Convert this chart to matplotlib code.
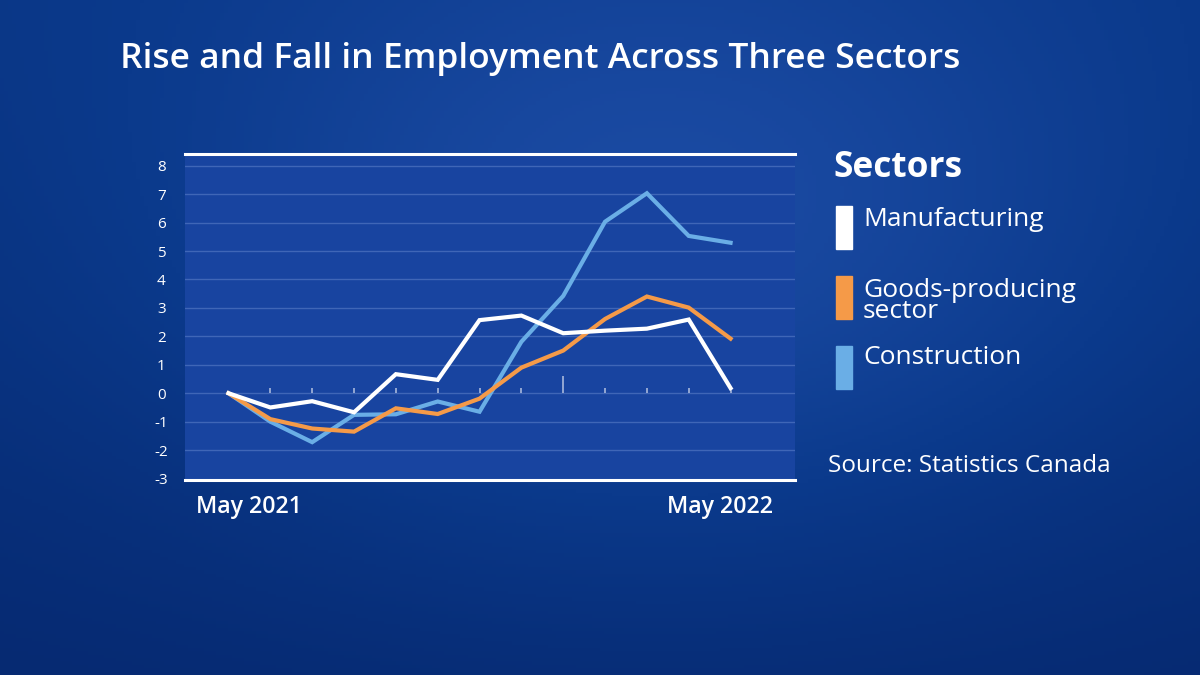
import numpy as np
import matplotlib.pyplot as plt
from matplotlib.patches import Rectangle
from matplotlib.colors import LinearSegmentedColormap

# -- data (percent change since May 2021)
months = ['May 2021', 'Jun', 'Jul', 'Aug', 'Sep', 'Oct', 'Nov', 'Dec',
          'Jan 2022', 'Feb', 'Mar', 'Apr', 'May 2022']
manufacturing = [0.0, -0.5, -0.28, -0.67, 0.67, 0.47, 2.57, 2.73, 2.11, 2.2, 2.27, 2.59, 0.18]
goods_producing = [0.0, -0.91, -1.24, -1.35, -0.53, -0.73, -0.19, 0.9, 1.5, 2.61, 3.4, 3.01, 1.92]
construction = [0.0, -1.0, -1.72, -0.76, -0.74, -0.29, -0.65, 1.81, 3.42, 6.03, 7.03, 5.53, 5.29]
yticks = [-3, -2, -1, 0, 1, 2, 3, 4, 5, 6, 7, 8]

series_names = ['Manufacturing', 'Goods-producing\nsector', 'Construction']
series_colors = ['#ffffff', '#f59a48', '#6aaee6']

plt.rcParams['font.family'] = ['Open Sans', 'DejaVu Sans']

fig = plt.figure(figsize=(12, 6.75), dpi=100)

# background gradient
bg = fig.add_axes([0, 0, 1, 1])
bg.set_axis_off()
yy, xx = np.mgrid[0:1:200j, 0:1:300j]
shade = 0.55 * np.exp(-((xx - 0.55) ** 2 / 0.18 + (yy - 0.35) ** 2 / 0.25)) + 0.25 * (1 - yy)
cmap = LinearSegmentedColormap.from_list('bg', ['#062a72', '#0b3a8c', '#1a4aa2'])
bg.imshow(shade, cmap=cmap, aspect='auto', extent=[0, 1, 0, 1], origin='upper')
bg.set_xlim(0, 1)
bg.set_ylim(0, 1)

# main chart
ax = fig.add_axes([185 / 1200, 1 - 480 / 675, 610 / 1200, 326 / 675])
ax.set_facecolor('#1844a0')
x = np.arange(len(months))

for yv in yticks[1:]:
    ax.axhline(yv, color='#4a6fbe', lw=1, alpha=0.8, zorder=1)

# small ticks along the zero line
tick_len = [0.6 if m.startswith('Jan') else 0.2 for m in months]
ax.vlines(x[1:], 0, tick_len[1:], color='#a8b8dc', lw=1.2, zorder=2)

ax.plot(x, construction, color=series_colors[2], lw=3, zorder=3, solid_joinstyle='miter')
ax.plot(x, goods_producing, color=series_colors[1], lw=3, zorder=4, solid_joinstyle='miter')
ax.plot(x, manufacturing, color=series_colors[0], lw=3, zorder=5, solid_joinstyle='miter')

ax.set_xlim(-1.04, 13.54)
ax.set_ylim(-3.05, 8.41)
ax.set_yticks(yticks)
ax.set_yticklabels([str(v) for v in yticks])
ax.set_xticks([])
ax.tick_params(axis='y', length=0, pad=17, labelcolor='white', labelsize=11)
for lbl in ax.get_yticklabels():
    lbl.set_horizontalalignment('center')
for s in ['left', 'right']:
    ax.spines[s].set_visible(False)
for s in ['top', 'bottom']:
    ax.spines[s].set_color('white')
    ax.spines[s].set_linewidth(2.2)

# x labels under the chart
fig.text(249 / 1200, 1 - 507 / 675, months[0], color='white', fontsize=16.7,
         fontweight='semibold', ha='center', va='center')
fig.text(720 / 1200, 1 - 507 / 675, months[-1], color='white', fontsize=16.7,
         fontweight='semibold', ha='center', va='center')

# title
fig.text(120 / 1200, 1 - 59 / 675, 'Rise and Fall in Employment Across Three Sectors',
         color='white', fontsize=25.5, fontweight='semibold', ha='left', va='center')

# legend
fig.text(833 / 1200, 1 - 168 / 675, 'Sectors', color='white', fontsize=25.4,
         fontweight='bold', ha='left', va='center')
patch_tops = [206, 276, 346]
text_y = [219, 301, 358]
for top, ty, name, c in zip(patch_tops, text_y, series_names, series_colors):
    fig.patches.append(Rectangle((836 / 1200, 1 - (top + 43) / 675), 16 / 1200, 43 / 675,
                                 transform=fig.transFigure, color=c))
    fig.text(863 / 1200, 1 - ty / 675, name, color='white', fontsize=19,
             ha='left', va='center', linespacing=0.8)

fig.text(828 / 1200, 1 - 466 / 675, 'Source: Statistics Canada', color='white',
         fontsize=17.5, ha='left', va='center')

fig.savefig('out.png', dpi=100)
